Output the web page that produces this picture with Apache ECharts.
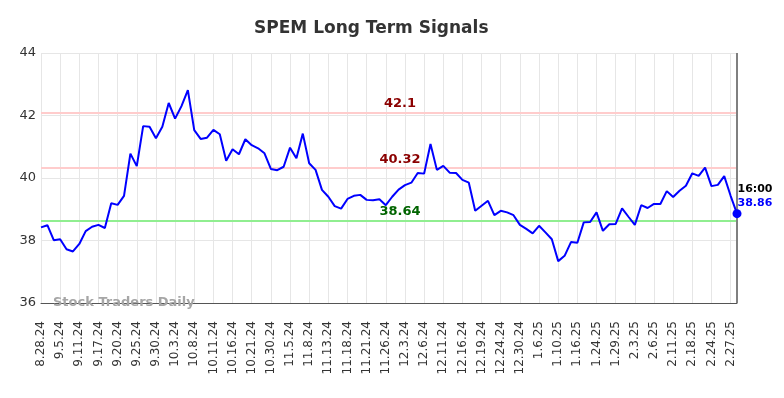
<!DOCTYPE html>
<html>
<head>
<meta charset="utf-8">
<script src="https://cdn.jsdelivr.net/npm/echarts@6/dist/echarts.min.js"></script>
<style>
  html, body { margin: 0; padding: 0; background: #fff; }
  #chart { width: 784px; height: 398px; }
</style>
</head>
<body>
<div id="chart"></div>
<script>
var dates = [
  '8.28.24', '8.30.24', '9.3.24', '9.5.24', '9.6.24', '9.9.24',
  '9.11.24', '9.12.24', '9.16.24', '9.17.24', '9.18.24', '9.19.24',
  '9.20.24', '9.23.24', '9.24.24', '9.25.24', '9.26.24', '9.27.24',
  '9.30.24', '10.1.24', '10.2.24', '10.3.24', '10.4.24', '10.7.24',
  '10.8.24', '10.9.24', '10.10.24', '10.11.24', '10.14.24', '10.15.24',
  '10.16.24', '10.17.24', '10.18.24', '10.21.24', '10.23.24', '10.25.24',
  '10.30.24', '11.1.24', '11.4.24', '11.5.24', '11.6.24', '11.7.24',
  '11.8.24', '11.11.24', '11.12.24', '11.13.24', '11.14.24', '11.15.24',
  '11.18.24', '11.19.24', '11.20.24', '11.21.24', '11.22.24', '11.25.24',
  '11.26.24', '11.27.24', '11.29.24', '12.3.24', '12.4.24', '12.5.24',
  '12.6.24', '12.9.24', '12.10.24', '12.11.24', '12.12.24', '12.13.24',
  '12.16.24', '12.17.24', '12.18.24', '12.19.24', '12.20.24', '12.23.24',
  '12.24.24', '12.26.24', '12.27.24', '12.30.24', '12.31.24', '1.2.25',
  '1.6.25', '1.7.25', '1.8.25', '1.10.25', '1.13.25', '1.14.25',
  '1.16.25', '1.17.25', '1.21.25', '1.24.25', '1.27.25', '1.28.25',
  '1.29.25', '1.30.25', '1.31.25', '2.3.25', '2.4.25', '2.5.25',
  '2.6.25', '2.7.25', '2.10.25', '2.11.25', '2.13.25', '2.14.25',
  '2.18.25', '2.20.25', '2.21.25', '2.24.25', '2.25.25', '2.26.25',
  '2.27.25', '2.28.25'
];

var prices = [
  38.42, 38.49, 38.01, 38.04, 37.72, 37.65, 37.89, 38.30, 38.44, 38.50,
  38.40, 39.19, 39.14, 39.43, 40.78, 40.38, 41.66, 41.64, 41.27, 41.64,
  42.40, 41.90, 42.30, 42.81, 41.53, 41.25, 41.29, 41.54, 41.40, 40.55,
  40.92, 40.76, 41.24, 41.05, 40.95, 40.79, 40.29, 40.25, 40.36, 40.97,
  40.63, 41.42, 40.47, 40.26, 39.62, 39.40, 39.10, 39.02, 39.33, 39.43,
  39.46, 39.30, 39.29, 39.32, 39.13, 39.40, 39.63, 39.77, 39.85, 40.16,
  40.14, 41.09, 40.26, 40.39, 40.17, 40.16, 39.94, 39.85, 38.95, 39.11,
  39.27, 38.81, 38.95, 38.90, 38.81, 38.50, 38.37, 38.23, 38.47, 38.26,
  38.04, 37.34, 37.51, 37.95, 37.93, 38.58, 38.59, 38.90, 38.31, 38.52,
  38.53, 39.03, 38.76, 38.50, 39.13, 39.04, 39.17, 39.17, 39.58, 39.39,
  39.59, 39.75, 40.15, 40.07, 40.33, 39.74, 39.78, 40.06, 39.43, 38.86
];

var upperSignal = 42.1;
var midSignal = 40.32;
var lowerSignal = 38.64;
var lastTime = '16:00';

var chart = echarts.init(document.getElementById('chart'));

var lastIdx = prices.length - 1;

var option = {
  backgroundColor: '#fff',
  animation: false,
  title: {
    text: 'SPEM Long Term Signals',
    left: 249,
    top: 15,
    textStyle: {
      fontFamily: 'DejaVu Sans',
      fontWeight: 'bold',
      fontSize: 17,
      color: '#333'
    }
  },
  grid: {
    left: 41,
    right: 47,
    top: 53,
    bottom: 95
  },
  xAxis: {
    type: 'category',
    boundaryGap: false,
    data: dates,
    axisLine: { lineStyle: { color: '#555', width: 1 } },
    axisTick: { show: false },
    axisLabel: {
      interval: 2,
      rotate: 90,
      margin: 18,
      fontSize: 12,
      fontFamily: 'DejaVu Sans',
      color: '#333'
    },
    splitLine: {
      show: true,
      interval: 2,
      lineStyle: { color: '#e6e6e6', width: 1 }
    }
  },
  yAxis: {
    type: 'value',
    min: 36,
    max: 44,
    interval: 2,
    axisLine: { show: false },
    axisTick: { show: false },
    axisLabel: {
      margin: 5,
      fontSize: 13,
      fontFamily: 'DejaVu Sans',
      color: '#333'
    },
    splitLine: { lineStyle: { color: '#e6e6e6', width: 1 } }
  },
  graphic: [{
    type: 'text',
    left: 53,
    top: 296,
    z: 100,
    style: {
      text: 'Stock Traders Daily',
      fill: '#a6a6a6',
      font: 'bold 13px "DejaVu Sans"'
    }
  }],
  series: [{
    name: 'SPEM',
    type: 'line',
    data: prices,
    showSymbol: false,
    lineStyle: { color: '#0000ff', width: 2 },
    itemStyle: { color: '#0000ff' },
    z: 5,
    markLine: {
      silent: true,
      symbol: ['none', 'none'],
      z: 1,
      data: [
        {
          yAxis: upperSignal,
          lineStyle: { color: '#ffcccc', width: 2, type: 'solid' },
          label: {
            show: true, position: 'middle', distance: 2, offset: [11, 0],
            formatter: String(upperSignal),
            color: '#8b0000', fontWeight: 'bold', fontSize: 13, fontFamily: 'DejaVu Sans'
          }
        },
        {
          yAxis: midSignal,
          lineStyle: { color: '#ffcccc', width: 2, type: 'solid' },
          label: {
            show: true, position: 'middle', distance: 2, offset: [11, 0],
            formatter: midSignal.toFixed(2),
            color: '#8b0000', fontWeight: 'bold', fontSize: 13, fontFamily: 'DejaVu Sans'
          }
        },
        {
          yAxis: lowerSignal,
          lineStyle: { color: '#90ee90', width: 2, type: 'solid' },
          label: {
            show: true, position: 'middle', distance: 2, offset: [11, 0],
            formatter: lowerSignal.toFixed(2),
            color: '#006400', fontWeight: 'bold', fontSize: 13, fontFamily: 'DejaVu Sans'
          }
        },
        {
          xAxis: dates[lastIdx],
          lineStyle: { color: '#808080', width: 2, type: 'solid' },
          label: { show: false }
        }
      ]
    }
  }, {
    name: 'last',
    type: 'scatter',
    data: [[dates[lastIdx], prices[lastIdx]]],
    symbol: 'circle',
    symbolSize: 9,
    itemStyle: { color: '#0000ff', opacity: 1 },
    z: 10,
    label: {
      show: true,
      position: 'right',
      distance: 0,
      offset: [-4, -17],
      align: 'left',
      formatter: function (p) {
        return '{t|' + lastTime + '}\n{v|' + p.value[1].toFixed(2) + '}';
      },
      rich: {
        t: { color: '#000', fontWeight: 'bold', fontSize: 11, fontFamily: 'DejaVu Sans', lineHeight: 14 },
        v: { color: '#0000ff', fontWeight: 'bold', fontSize: 11, fontFamily: 'DejaVu Sans', lineHeight: 14 }
      }
    }
  }]
};

chart.setOption(option);
</script>
</body>
</html>
